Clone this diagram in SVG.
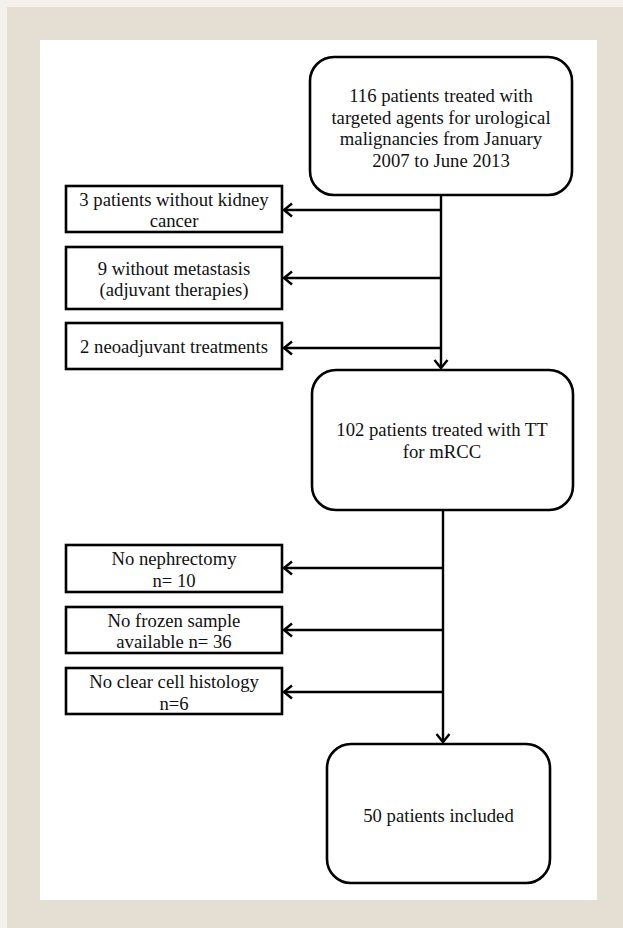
<svg xmlns="http://www.w3.org/2000/svg" width="623" height="928" viewBox="0 0 623 928">
<defs>
<style>
.bg{fill:#f4f1ec}
.frame{fill:#e5dfd3}
.panel{fill:#ffffff}
.box{fill:#ffffff;stroke:#000;stroke-width:2.6}
.t{font-family:"Liberation Serif","Times New Roman",serif;font-size:18.7px;fill:#111;text-anchor:middle}
.c{fill:none;stroke:#000;stroke-width:2.4}
</style>
<marker id="ah" markerUnits="userSpaceOnUse" markerWidth="14" markerHeight="16" refX="11" refY="8" orient="auto">
<path d="M3,1.5 L11,8 L3,14.5" fill="none" stroke="#000" stroke-width="2.4" stroke-linejoin="miter"/>
</marker>
</defs>
<rect class="bg" x="0" y="0" width="623" height="928"/>
<rect class="frame" x="7" y="7" width="616" height="921"/>
<rect class="panel" x="40" y="40" width="557" height="860"/>

<g id="connectors">
<line class="c" x1="441" y1="195" x2="441" y2="368" marker-end="url(#ah)"/>
<line class="c" x1="441" y1="210" x2="284" y2="210" marker-end="url(#ah)"/>
<line class="c" x1="441" y1="278" x2="284" y2="278" marker-end="url(#ah)"/>
<line class="c" x1="441" y1="348" x2="284" y2="348" marker-end="url(#ah)"/>
<line class="c" x1="443" y1="510" x2="443" y2="742" marker-end="url(#ah)"/>
<line class="c" x1="443" y1="568" x2="284" y2="568" marker-end="url(#ah)"/>
<line class="c" x1="443" y1="630" x2="284" y2="630" marker-end="url(#ah)"/>
<line class="c" x1="443" y1="692" x2="284" y2="692" marker-end="url(#ah)"/>
</g>

<g id="n116">
<rect class="box" x="310" y="57" width="262" height="138" rx="24" ry="24"/>
<text class="t" x="441" y="102">116 patients treated with</text>
<text class="t" x="441" y="123.5">targeted agents for urological</text>
<text class="t" x="441" y="145">malignancies from January</text>
<text class="t" x="441" y="167">2007 to June 2013</text>
</g>

<g id="nKidney">
<rect class="box" x="66" y="186" width="216" height="46"/>
<text class="t" x="174" y="206">3 patients without kidney</text>
<text class="t" x="174" y="227">cancer</text>
</g>

<g id="nMeta">
<rect class="box" x="66" y="247" width="216" height="62"/>
<text class="t" x="174" y="275">9 without metastasis</text>
<text class="t" x="174" y="296">(adjuvant therapies)</text>
</g>

<g id="nNeo">
<rect class="box" x="66" y="323" width="216" height="46"/>
<text class="t" x="174" y="353">2 neoadjuvant treatments</text>
</g>

<g id="n102">
<rect class="box" x="312" y="370" width="261" height="140" rx="24" ry="24"/>
<text class="t" x="442" y="436">102 patients treated with TT</text>
<text class="t" x="442" y="458">for mRCC</text>
</g>

<g id="nNeph">
<rect class="box" x="66" y="545" width="216" height="47"/>
<text class="t" x="174" y="565">No nephrectomy</text>
<text class="t" x="174" y="587">n= 10</text>
</g>

<g id="nFrozen">
<rect class="box" x="66" y="607" width="216" height="46"/>
<text class="t" x="174" y="627">No frozen sample</text>
<text class="t" x="174" y="648">available n= 36</text>
</g>

<g id="nClear">
<rect class="box" x="66" y="668" width="216" height="46"/>
<text class="t" x="174" y="688">No clear cell histology</text>
<text class="t" x="174" y="710">n=6</text>
</g>

<g id="n50">
<rect class="box" x="327" y="744" width="223" height="139" rx="24" ry="24"/>
<text class="t" x="438.5" y="822">50 patients included</text>
</g>
</svg>
